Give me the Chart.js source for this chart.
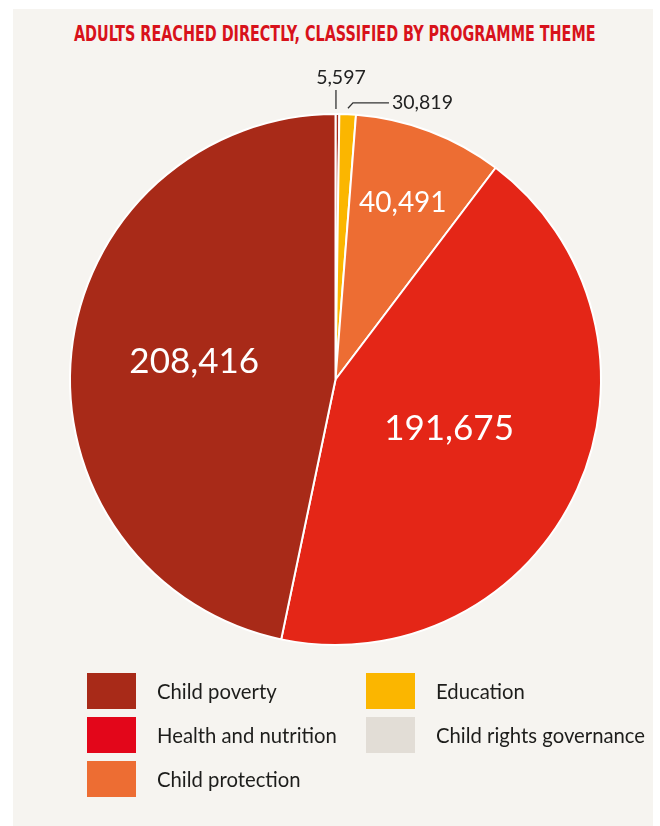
<!DOCTYPE html>
<html>
<head>
<meta charset="utf-8">
<script src="https://cdn.jsdelivr.net/npm/chart.js@4.4.1/dist/chart.umd.min.js"></script>
<style>
  html, body { margin: 0; padding: 0; background: #fff; }
  body { width: 660px; height: 826px; position: relative; overflow: hidden; font-family: Lato, sans-serif; }
  #panel { position: absolute; left: 13px; top: 9px; width: 640px; height: 817px; background: #f6f4f0; }
  #title { position: absolute; left: 0; top: 22px; width: 660px; text-align: center; white-space: nowrap;
           font-family: 'DejaVu Sans Condensed', 'DejaVu Sans', sans-serif; font-weight: bold; font-size: 20.5px;
           color: #d8121b; line-height: 24px; }
  #title span { display: inline-block; transform-origin: center; }
  #pie { position: absolute; left: 0; top: 0; }
  .item { position: absolute; height: 36px; display: flex; align-items: center; font-size: 20.3px; color: #1d1d1b; }
  .sw { width: 49px; height: 36px; margin-right: 21px; flex: none; }
</style>
</head>
<body>
<div id="panel"></div>
<div id="title"><span>ADULTS REACHED DIRECTLY, CLASSIFIED BY PROGRAMME THEME</span></div>
<canvas id="pie" width="660" height="826"></canvas>
<div id="legend"></div>
<script>
// legend themes, in reading order (column by column)
const themes = ['Child poverty', 'Health and nutrition', 'Child protection', 'Education', 'Child rights governance'];
const themeColours = ['#a82a18', '#e3061a', '#ed6d33', '#fbb600', '#e2ddd6'];

// slices clockwise from 12 o'clock
const sliceLabels = ['5,597', '30,819', '40,491', '191,675', '208,416'];
// slice sizes as drawn in the picture (the two thin ones are narrower than their printed numbers)
const sliceValues = [1030, 4460, 40491, 191675, 208416];
const sliceColours = ['#a82a18', '#fbb600', '#ed6d33', '#e42617', '#a82a18'];

// squeeze title to its width in the picture
const titleSpan = document.querySelector('#title span');
titleSpan.style.transform = 'scaleX(' + (522 / titleSpan.offsetWidth) + ')';

// legend
const legendEl = document.getElementById('legend');
themes.forEach((name, i) => {
  const col = Math.floor(i / 3);
  const row = i % 3;
  const item = document.createElement('div');
  item.className = 'item';
  item.style.left = (col === 0 ? 87 : 366) + 'px';
  item.style.top = (673 + row * 44) + 'px';
  item.innerHTML = '<div class="sw" style="background:' + themeColours[i] + '"></div>' + name;
  legendEl.appendChild(item);
});

const labelPlugin = {
  id: 'sliceLabels',
  afterDatasetsDraw(chart) {
    const ctx = chart.ctx;
    const arcs = chart.getDatasetMeta(0).data;
    ctx.save();
    ctx.textAlign = 'center';
    ctx.textBaseline = 'middle';

    // labels inside the big slices: [index, fraction of radius, font size, nudge y]
    [[2, 0.715, 28, 1], [3, 0.47, 35, -2], [4, 0.535, 35, -3]].forEach(([i, f, size, dy]) => {
      const a = arcs[i];
      const mid = (a.startAngle + a.endAngle) / 2;
      ctx.fillStyle = '#fff';
      ctx.font = size + 'px Lato';
      ctx.fillText(sliceLabels[i], a.x + Math.cos(mid) * a.outerRadius * f, a.y + Math.sin(mid) * a.outerRadius * f + dy);
    });

    ctx.strokeStyle = '#333';
    ctx.lineWidth = 1.3;
    ctx.fillStyle = '#222';
    ctx.font = '19.5px Lato';

    // thin slice: straight line up
    let a = arcs[0];
    let mid = (a.startAngle + a.endAngle) / 2;
    let px = a.x + Math.cos(mid) * (a.outerRadius + 5) - 1.5;
    let py = a.y + Math.sin(mid) * (a.outerRadius + 5);
    ctx.beginPath();
    ctx.moveTo(px, py);
    ctx.lineTo(px, py - 19);
    ctx.stroke();
    ctx.fillText(sliceLabels[0], px + 5, py - 31);

    // second thin slice: elbow line to the right
    a = arcs[1];
    mid = (a.startAngle + a.endAngle) / 2;
    px = a.x + Math.cos(mid) * (a.outerRadius + 6);
    py = a.y + Math.sin(mid) * (a.outerRadius + 6);
    ctx.beginPath();
    ctx.moveTo(px, py);
    ctx.lineTo(px + 5, py - 5.5);
    ctx.lineTo(px + 41, py - 5.5);
    ctx.stroke();
    ctx.textAlign = 'left';
    ctx.fillText(sliceLabels[1], px + 44, py - 6);
    ctx.restore();
  }
};

new Chart(document.getElementById('pie'), {
  type: 'pie',
  data: {
    labels: sliceLabels,
    datasets: [{
      data: sliceValues,
      backgroundColor: sliceColours,
      borderColor: '#fff',
      borderWidth: 2,
    }],
  },
  options: {
    responsive: false,
    animation: false,
    layout: { padding: { left: 69, top: 113, right: 58, bottom: 180 } },
    plugins: {
      legend: { display: false },
      tooltip: { enabled: false },
    },
  },
  plugins: [labelPlugin],
});
</script>
</body>
</html>
